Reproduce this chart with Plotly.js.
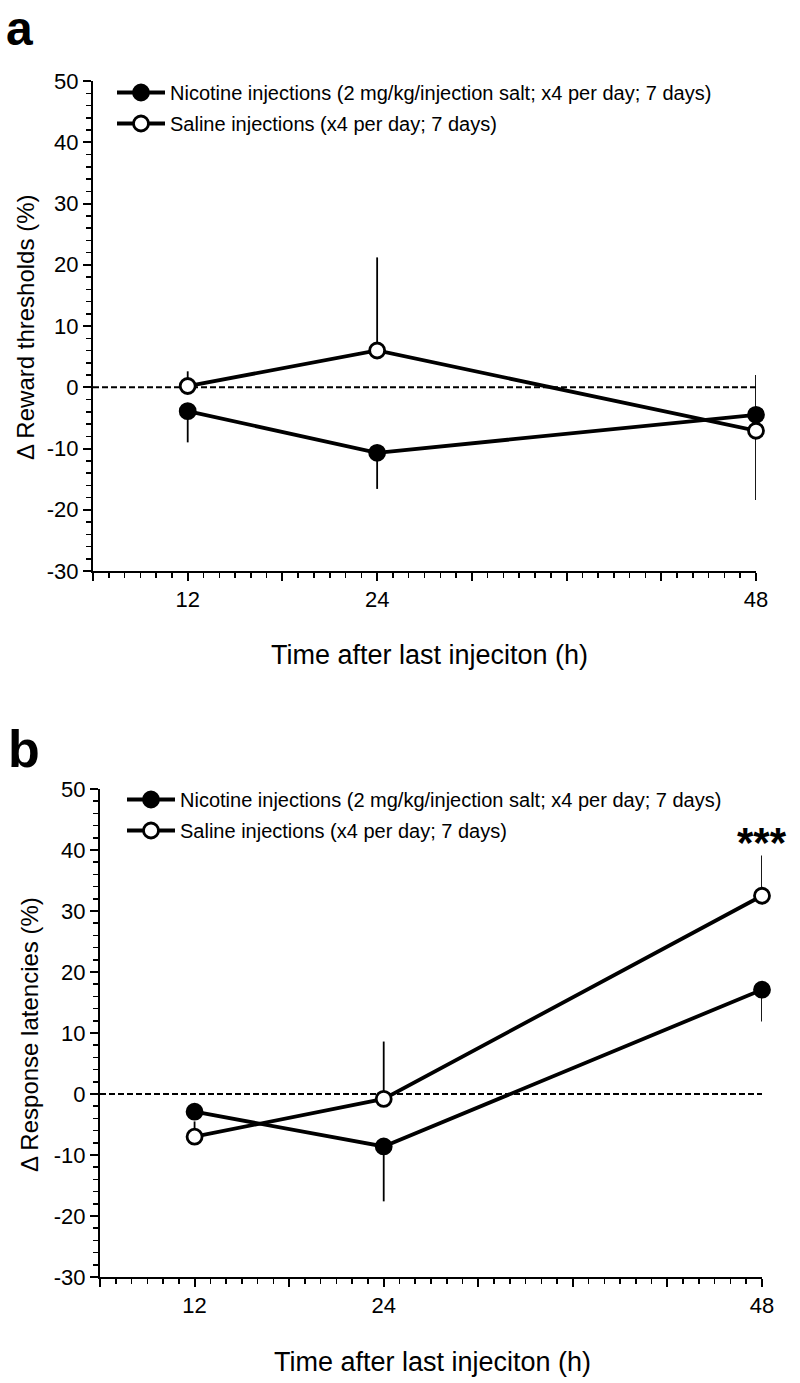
<!DOCTYPE html>
<html>
<head>
<meta charset="utf-8">
<script src="https://cdn.plot.ly/plotly-3.0.1.min.js"></script>
<style>html,body{margin:0;padding:0;background:#fff;}#chart{width:800px;height:1383px;}</style>
</head>
<body>
<div id="chart"></div>
<script>
// ---- data ----
const hours = [12, 24, 48];
const xTickVals = [6, 12, 18, 24, 30, 36, 42, 48];
const xTickText = ["", "12", "", "24", "", "", "", "48"];
const yTickVals = [-30, -20, -10, 0, 10, 20, 30, 40, 50];
const yTickText = ["-30", "-20", "-10", "0", "10", "20", "30", "40", "50"];

const seriesNames = [
  "Nicotine injections (2 mg/kg/injection salt; x4 per day; 7 days)",
  "Saline injections (x4 per day; 7 days)"
];

// Panel a: reward thresholds
const rewardNicotine = [-3.9, -10.7, -4.5];
const rewardNicotineErrUp = [0, 0, 6.5];
const rewardNicotineErrDown = [5.1, 5.9, 0];
const rewardSaline = [0.2, 6.0, -7.1];
const rewardSalineErrUp = [2.4, 15.2, 0];
const rewardSalineErrDown = [0, 0, 11.3];

// Panel b: response latencies
const latNicotine = [-2.9, -8.6, 17.1];
const latNicotineErrUp = [0, 0, 0];
const latNicotineErrDown = [0, 9.0, 5.2];
const latSaline = [-7.0, -0.8, 32.5];
const latSalineErrUp = [2.5, 9.4, 6.6];
const latSalineErrDown = [0, 0, 0];

const xTitle = "Time after last injeciton (h)";
const yTitleA = "Δ Reward thresholds (%)";
const yTitleB = "Δ Response latencies (%)";
const sigLabel = "***";
const sigValue = 41.3;

// ---- build ----
const FONT = "Liberation Sans, Arial, Helvetica, sans-serif";

function mkTrace(y, up, down, name, filled, xa, ya, leg, grp) {
  return {
    x: hours, y: y, name: name, type: "scatter", mode: "lines+markers",
    xaxis: xa, yaxis: ya, legend: leg, legendgroup: grp,
    line: {color: "#000", width: 3.8},
    marker: {symbol: "circle", size: 15, color: filled ? "#000" : "#fff",
             line: {color: "#000", width: 2.8}},
    error_y: {type: "data", symmetric: false, array: up, arrayminus: down,
              width: 0, thickness: 1.8, color: "#000"},
    cliponaxis: false
  };
}

const traces = [
  mkTrace(rewardSaline, rewardSalineErrUp, rewardSalineErrDown, seriesNames[1], false, "x", "y", "legend", "sa"),
  mkTrace(rewardNicotine, rewardNicotineErrUp, rewardNicotineErrDown, seriesNames[0], true, "x", "y", "legend", "na"),
  mkTrace(latSaline, latSalineErrUp, latSalineErrDown, seriesNames[1], false, "x2", "y2", "legend2", "sb"),
  mkTrace(latNicotine, latNicotineErrUp, latNicotineErrDown, seriesNames[0], true, "x2", "y2", "legend2", "nb")
];
traces[0].legendrank = 2; traces[1].legendrank = 1;
traces[2].legendrank = 2; traces[3].legendrank = 1;

function xAxis(domain, anchor) {
  return {
    domain: domain, anchor: anchor, range: [6, 48],
    tickmode: "array", tickvals: xTickVals, ticktext: xTickText,
    ticks: "outside", ticklen: 8, tickwidth: 2, tickcolor: "#000",
    minor: {tickmode: "linear", tick0: 0, dtick: 1, ticks: "outside", ticklen: 5, tickwidth: 1.5, tickcolor: "#000"},
    showline: true, linewidth: 2, linecolor: "#000",
    showgrid: false, zeroline: false,
    tickfont: {family: FONT, size: 22, color: "#000"},
    fixedrange: true
  };
}
function yAxis(domain, anchor) {
  return {
    domain: domain, anchor: anchor, range: [-30, 50],
    tickmode: "array", tickvals: yTickVals, ticktext: yTickText,
    ticks: "outside", ticklen: 8, tickwidth: 2, tickcolor: "#000",
    minor: {tickmode: "linear", tick0: 0, dtick: 2, ticks: "outside", ticklen: 5, tickwidth: 1.5, tickcolor: "#000"},
    showline: true, linewidth: 2, linecolor: "#000",
    showgrid: false, zeroline: false,
    tickfont: {family: FONT, size: 22, color: "#000"},
    fixedrange: true
  };
}

const W = 800, H = 1383;
const px = v => v / W;
const py = v => 1 - v / H;

const legendBase = {
  font: {family: FONT, size: 20, color: "#000"},
  bgcolor: "rgba(0,0,0,0)", borderwidth: 0,
  xanchor: "left", yanchor: "top", itemwidth: 48,
  traceorder: "grouped", tracegroupgap: 2
};

const layout = {
  width: W, height: H,
  margin: {l: 0, r: 0, t: 0, b: 0},
  paper_bgcolor: "#fff", plot_bgcolor: "#fff",
  font: {family: FONT, color: "#000"},
  showlegend: true,
  xaxis: xAxis([px(93), px(756)], "y"),
  yaxis: yAxis([py(571), py(81)], "x"),
  xaxis2: xAxis([px(100), px(762)], "y2"),
  yaxis2: yAxis([py(1277), py(789)], "x2"),
  legend: Object.assign({}, legendBase, {x: px(112), y: py(73)}),
  legend2: Object.assign({}, legendBase, {x: px(122), y: py(780)}),
  shapes: [
    {type: "line", xref: "x", yref: "y", x0: 6, x1: 48.3, y0: 0, y1: 0,
     line: {color: "#000", width: 1.8, dash: "6px,3px"}, layer: "below"},
    {type: "line", xref: "x2", yref: "y2", x0: 6, x1: 48.3, y0: 0, y1: 0,
     line: {color: "#000", width: 1.8, dash: "6px,3px"}, layer: "below"}
  ],
  annotations: [
    {text: "<b>a</b>", xref: "paper", yref: "paper", x: px(4), y: py(0), xanchor: "left", yanchor: "top",
     showarrow: false, font: {family: FONT, size: 48, color: "#000"}},
    {text: "<b>b</b>", xref: "paper", yref: "paper", x: px(6), y: py(718), xanchor: "left", yanchor: "top",
     showarrow: false, font: {family: FONT, size: 52, color: "#000"}},
    {text: xTitle, xref: "paper", yref: "paper", x: px(429), y: py(655), xanchor: "center", yanchor: "middle",
     showarrow: false, font: {family: FONT, size: 27, color: "#000"}},
    {text: xTitle, xref: "paper", yref: "paper", x: px(432), y: py(1362), xanchor: "center", yanchor: "middle",
     showarrow: false, font: {family: FONT, size: 27, color: "#000"}},
    {text: yTitleA, xref: "paper", yref: "paper", x: px(26), y: py(328), xanchor: "center", yanchor: "middle",
     textangle: -90, showarrow: false, font: {family: FONT, size: 24, color: "#000"}},
    {text: yTitleB, xref: "paper", yref: "paper", x: px(29), y: py(1035), xanchor: "center", yanchor: "middle",
     textangle: -90, showarrow: false, font: {family: FONT, size: 24, color: "#000"}},
    {text: "<b>" + sigLabel + "</b>", xref: "x2", yref: "y2", x: 48, y: sigValue, xanchor: "center", yanchor: "middle",
     showarrow: false, font: {family: FONT, size: 42, color: "#000"}}
  ]
};

Plotly.newPlot("chart", traces, layout, {staticPlot: true, displayModeBar: false});
</script>
</body>
</html>
